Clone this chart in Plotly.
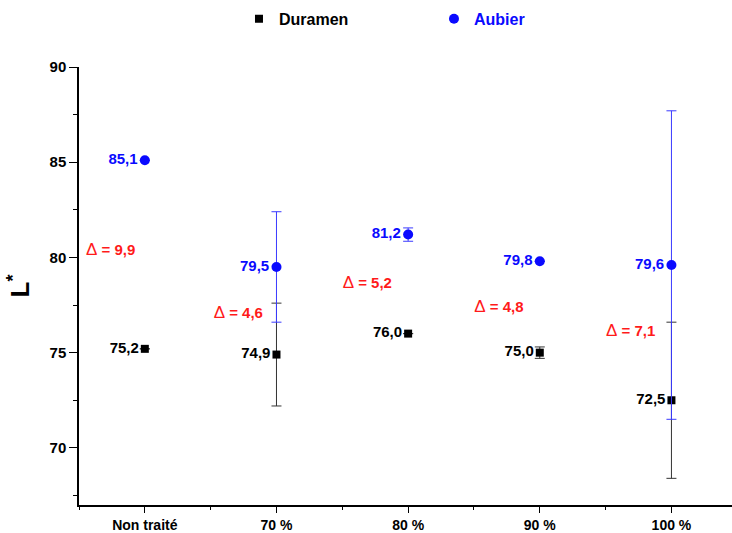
import plotly.graph_objects as go

categories = ["Non traité", "70 %", "80 %", "90 %", "100 %"]
duramen = [75.2, 74.9, 76.0, 75.0, 72.5]
duramen_err = [0.0, 2.7, 0.0, 0.3, 4.1]
aubier = [85.1, 79.5, 81.2, 79.8, 79.6]
aubier_err = [0.0, 2.9, 0.35, 0.0, 8.1]
duramen_labels = ["75,2", "74,9", "76,0", "75,0", "72,5"]
aubier_labels = ["85,1", "79,5", "81,2", "79,8", "79,6"]
delta_labels = ["9,9", "4,6", "5,2", "4,8", "7,1"]
delta_x = [-0.26, 0.71, 1.69, 2.69, 3.69]
delta_y = [80.35, 77.0, 78.6, 77.35, 76.05]

xs = list(range(len(categories)))
FONT = "Liberation Sans, Arial, sans-serif"
BLUE = "#0a0aff"

fig = go.Figure()
fig.add_trace(go.Scatter(
    x=xs, y=duramen, mode="markers+text", name="Duramen",
    marker=dict(symbol="square", size=8, color="black"),
    error_y=dict(type="data", array=duramen_err, color="#333333", thickness=1, width=5),
    text=duramen_labels, textposition="middle left",
    textfont=dict(family=FONT, size=15, color="black", weight="bold"),
))
fig.add_trace(go.Scatter(
    x=xs, y=aubier, mode="markers+text", name="<span style='color:%s'>Aubier</span>" % BLUE,
    marker=dict(symbol="circle", size=10, color=BLUE),
    error_y=dict(type="data", array=aubier_err, color="#3a3aff", thickness=1, width=5),
    text=aubier_labels, textposition="middle left",
    textfont=dict(family=FONT, size=15, color=BLUE, weight="bold"),
))
fig.add_trace(go.Scatter(
    x=delta_x, y=delta_y, mode="text", showlegend=False,
    text=["<span style='font-size:17px'>Δ</span> <b>= %s</b>" % d for d in delta_labels],
    textfont=dict(family=FONT, size=15, color="#ff1a1a"),
))

fig.update_layout(
    width=732, height=533,
    margin=dict(l=79, r=0, t=67, b=26),
    plot_bgcolor="white", paper_bgcolor="white",
    font=dict(family=FONT, size=14, color="black"),
    legend=dict(orientation="h", x=0.245, xanchor="left", y=1.11, yanchor="middle",
                font=dict(family=FONT, size=16, color="black", weight="bold"),
                entrywidth=150, entrywidthmode="pixels", bgcolor="rgba(0,0,0,0)"),
    xaxis=dict(range=[-0.5, 4.46], tickmode="array", tickvals=xs, ticktext=categories,
               showline=True, linecolor="black", linewidth=1.5, showgrid=False, zeroline=False,
               ticks="outside", ticklen=6, tickwidth=1.2, tickcolor="black",
               tickfont=dict(family=FONT, size=14, color="black", weight="bold"),
               minor=dict(tickmode="array", tickvals=[-0.5, 0.5, 1.5, 2.5, 3.5],
                          ticks="outside", ticklen=3, tickwidth=1, tickcolor="black")),
    yaxis=dict(range=[67, 90], tickmode="array", tickvals=[70, 75, 80, 85, 90],
               showline=True, linecolor="black", linewidth=1.5, showgrid=False, zeroline=False,
               ticks="outside", ticklen=8, tickwidth=1.2, tickcolor="black",
               tickfont=dict(family=FONT, size=15, color="black", weight="bold"),
               minor=dict(tickmode="array", tickvals=[67.5, 72.5, 77.5, 82.5, 87.5],
                          ticks="outside", ticklen=4, tickwidth=1, tickcolor="black"),
               title=dict(text="<b>L<sup>*</sup></b>", font=dict(family=FONT, size=26, color="black"),
                          standoff=12)),
)

fig.write_html("out.html", config={"displayModeBar": False},
               post_script="document.body.style.margin='0';")
